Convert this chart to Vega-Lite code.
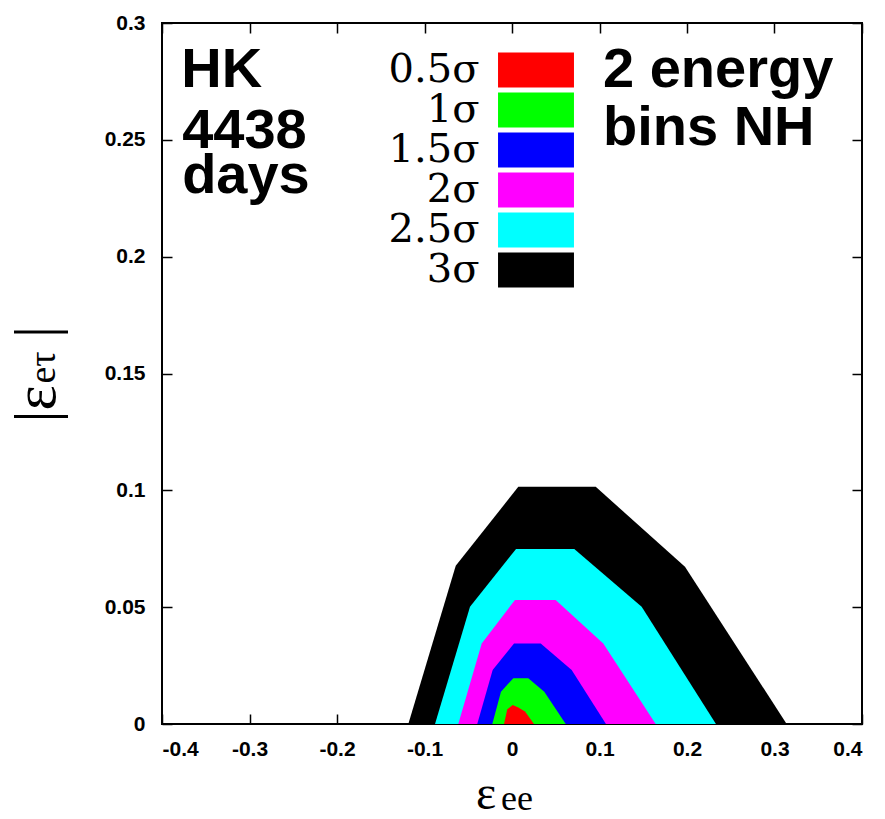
{
  "$schema": "https://vega.github.io/schema/vega-lite/v6.json",
  "width": 700,
  "height": 701,
  "autosize": {"type": "none"},
  "padding": {"left": 162, "top": 23, "right": 23, "bottom": 95},
  "background": "white",
  "config": {
    "view": {"stroke": "black", "strokeWidth": 2},
    "axis": {
      "grid": false, "domain": false, "ticks": true, "tickColor": "black", "tickWidth": 1.5, "tickSize": -10,
      "labelFont": "Liberation Sans", "labelFontWeight": "bold", "labelFontSize": 21, "labelColor": "black"
    },
    "text": {"color": "black"}
  },
  "data": {"values": [
    {"level": "3σ", "x": -0.1185, "y": 0},
    {"level": "3σ", "x": -0.0643, "y": 0.0677},
    {"level": "3σ", "x": 0.0072, "y": 0.1015},
    {"level": "3σ", "x": 0.0957, "y": 0.1015},
    {"level": "3σ", "x": 0.1977, "y": 0.0673},
    {"level": "3σ", "x": 0.3139, "y": 0},
    {"level": "2.5σ", "x": -0.088, "y": 0},
    {"level": "2.5σ", "x": -0.048, "y": 0.0502},
    {"level": "2.5σ", "x": 0.0046, "y": 0.0749},
    {"level": "2.5σ", "x": 0.0712, "y": 0.0749},
    {"level": "2.5σ", "x": 0.1482, "y": 0.0502},
    {"level": "2.5σ", "x": 0.2331, "y": 0},
    {"level": "2σ", "x": -0.0614, "y": 0},
    {"level": "2σ", "x": -0.0346, "y": 0.0345},
    {"level": "2σ", "x": 0.0034, "y": 0.0531},
    {"level": "2σ", "x": 0.0499, "y": 0.0531},
    {"level": "2σ", "x": 0.1043, "y": 0.0345},
    {"level": "2σ", "x": 0.1642, "y": 0},
    {"level": "1.5σ", "x": -0.0397, "y": 0},
    {"level": "1.5σ", "x": -0.0221, "y": 0.0231},
    {"level": "1.5σ", "x": 0.0023, "y": 0.0344},
    {"level": "1.5σ", "x": 0.0328, "y": 0.0344},
    {"level": "1.5σ", "x": 0.0682, "y": 0.0231},
    {"level": "1.5σ", "x": 0.1074, "y": 0},
    {"level": "1σ", "x": -0.0225, "y": 0},
    {"level": "1σ", "x": -0.0126, "y": 0.0138},
    {"level": "1σ", "x": 0.0015, "y": 0.0196},
    {"level": "1σ", "x": 0.0186, "y": 0.0196},
    {"level": "1σ", "x": 0.0369, "y": 0.0138},
    {"level": "1σ", "x": 0.0614, "y": 0},
    {"level": "0.5σ", "x": -0.0091, "y": 0},
    {"level": "0.5σ", "x": -0.0054, "y": 0.0063},
    {"level": "0.5σ", "x": 0.0008, "y": 0.0081},
    {"level": "0.5σ", "x": 0.0072, "y": 0.0071},
    {"level": "0.5σ", "x": 0.0149, "y": 0.0053},
    {"level": "0.5σ", "x": 0.0251, "y": 0}
  ]},
  "resolve": {"axis": {"x": "independent", "y": "independent"}},
  "layer": [
    {
      "transform": [{"filter": "datum.level === '3σ'"}],
      "mark": {"type": "area", "opacity": 1, "interpolate": "linear"},
      "encoding": {
        "x": {"field": "x", "type": "quantitative", "scale": {"domain": [-0.4, 0.4], "nice": false, "zero": false},
          "axis": {"orient": "bottom", "values": [-0.4, -0.3, -0.2, -0.1, 0, 0.1, 0.2, 0.3, 0.4], "labelExpr": "replace(format(datum.value, '~g'), '−', '-')", "labelPadding": 24, "title": null}},
        "y": {"field": "y", "type": "quantitative", "scale": {"domain": [0, 0.3], "nice": false, "zero": false},
          "axis": {"orient": "left", "values": [0, 0.05, 0.1, 0.15, 0.2, 0.25, 0.3], "labelExpr": "format(datum.value, '~g')", "labelPadding": 27, "title": null}},
        "y2": {"datum": 0},
        "color": {"field": "level", "type": "nominal",
          "scale": {"domain": ["0.5σ", "1σ", "1.5σ", "2σ", "2.5σ", "3σ"], "range": ["#ff0000", "#00ff00", "#0000ff", "#ff00ff", "#00ffff", "#000000"]},
          "legend": {"orient": "none", "legendX": 354, "legendY": 27, "title": null, "padding": 0,
            "symbolType": "M-2.17,-1L2.17,-1L2.17,1L-2.17,1Z", "symbolSize": 1225, "symbolStrokeWidth": 0, "symbolOpacity": 1,
            "labelFont": "DejaVu Serif", "labelFontSize": 40, "labelColor": "black", "labelAlign": "right", "labelOffset": -76.5, "rowPadding": 0, "labelLimit": 0}}
      }
    },
    {
      "transform": [{"filter": "datum.level === '2.5σ'"}],
      "mark": {"type": "area", "opacity": 1, "interpolate": "linear"},
      "encoding": {
        "x": {"field": "x", "type": "quantitative", "scale": {"domain": [-0.4, 0.4], "nice": false, "zero": false}, "axis": null},
        "y": {"field": "y", "type": "quantitative", "scale": {"domain": [0, 0.3], "nice": false, "zero": false}, "axis": null},
        "y2": {"datum": 0},
        "color": {"field": "level", "type": "nominal"}
      }
    },
    {
      "transform": [{"filter": "datum.level === '2σ'"}],
      "mark": {"type": "area", "opacity": 1, "interpolate": "linear"},
      "encoding": {
        "x": {"field": "x", "type": "quantitative", "scale": {"domain": [-0.4, 0.4], "nice": false, "zero": false}, "axis": null},
        "y": {"field": "y", "type": "quantitative", "scale": {"domain": [0, 0.3], "nice": false, "zero": false}, "axis": null},
        "y2": {"datum": 0},
        "color": {"field": "level", "type": "nominal"}
      }
    },
    {
      "transform": [{"filter": "datum.level === '1.5σ'"}],
      "mark": {"type": "area", "opacity": 1, "interpolate": "linear"},
      "encoding": {
        "x": {"field": "x", "type": "quantitative", "scale": {"domain": [-0.4, 0.4], "nice": false, "zero": false}, "axis": null},
        "y": {"field": "y", "type": "quantitative", "scale": {"domain": [0, 0.3], "nice": false, "zero": false}, "axis": null},
        "y2": {"datum": 0},
        "color": {"field": "level", "type": "nominal"}
      }
    },
    {
      "transform": [{"filter": "datum.level === '1σ'"}],
      "mark": {"type": "area", "opacity": 1, "interpolate": "linear"},
      "encoding": {
        "x": {"field": "x", "type": "quantitative", "scale": {"domain": [-0.4, 0.4], "nice": false, "zero": false}, "axis": null},
        "y": {"field": "y", "type": "quantitative", "scale": {"domain": [0, 0.3], "nice": false, "zero": false}, "axis": null},
        "y2": {"datum": 0},
        "color": {"field": "level", "type": "nominal"}
      }
    },
    {
      "transform": [{"filter": "datum.level === '0.5σ'"}],
      "mark": {"type": "area", "opacity": 1, "interpolate": "linear"},
      "encoding": {
        "x": {"field": "x", "type": "quantitative", "scale": {"domain": [-0.4, 0.4], "nice": false, "zero": false}, "axis": null},
        "y": {"field": "y", "type": "quantitative", "scale": {"domain": [0, 0.3], "nice": false, "zero": false}, "axis": null},
        "y2": {"datum": 0},
        "color": {"field": "level", "type": "nominal"}
      }
    },
    {
      "data": {"values": [{"note": "HK"}]},
      "mark": {"type": "text", "font": "Liberation Sans", "fontWeight": "bold", "fontSize": 56, "align": "left", "baseline": "alphabetic", "color": "black"},
      "encoding": {
        "x": {"datum": -0.378, "type": "quantitative", "scale": {"domain": [-0.4, 0.4], "nice": false, "zero": false}, "axis": null},
        "y": {"datum": 0.2726, "type": "quantitative", "scale": {"domain": [0, 0.3], "nice": false, "zero": false}, "axis": null},
        "text": {"field": "note"}
      }
    },
    {
      "data": {"values": [{"note": "4438"}]},
      "mark": {"type": "text", "font": "Liberation Sans", "fontWeight": "bold", "fontSize": 56, "align": "left", "baseline": "alphabetic", "color": "black"},
      "encoding": {
        "x": {"datum": -0.377, "type": "quantitative", "scale": {"domain": [-0.4, 0.4], "nice": false, "zero": false}, "axis": null},
        "y": {"datum": 0.2465, "type": "quantitative", "scale": {"domain": [0, 0.3], "nice": false, "zero": false}, "axis": null},
        "text": {"field": "note"}
      }
    },
    {
      "data": {"values": [{"note": "days"}]},
      "mark": {"type": "text", "font": "Liberation Sans", "fontWeight": "bold", "fontSize": 56, "align": "left", "baseline": "alphabetic", "color": "black"},
      "encoding": {
        "x": {"datum": -0.377, "type": "quantitative", "scale": {"domain": [-0.4, 0.4], "nice": false, "zero": false}, "axis": null},
        "y": {"datum": 0.2272, "type": "quantitative", "scale": {"domain": [0, 0.3], "nice": false, "zero": false}, "axis": null},
        "text": {"field": "note"}
      }
    },
    {
      "data": {"values": [{"note": "2 energy"}]},
      "mark": {"type": "text", "font": "Liberation Sans", "fontWeight": "bold", "fontSize": 56, "align": "left", "baseline": "alphabetic", "color": "black"},
      "encoding": {
        "x": {"datum": 0.104, "type": "quantitative", "scale": {"domain": [-0.4, 0.4], "nice": false, "zero": false}, "axis": null},
        "y": {"datum": 0.2726, "type": "quantitative", "scale": {"domain": [0, 0.3], "nice": false, "zero": false}, "axis": null},
        "text": {"field": "note"}
      }
    },
    {
      "data": {"values": [{"note": "bins NH"}]},
      "mark": {"type": "text", "font": "Liberation Sans", "fontWeight": "bold", "fontSize": 56, "align": "left", "baseline": "alphabetic", "color": "black"},
      "encoding": {
        "x": {"datum": 0.104, "type": "quantitative", "scale": {"domain": [-0.4, 0.4], "nice": false, "zero": false},
          "axis": {"orient": "top", "values": [-0.4, -0.3, -0.2, -0.1, 0, 0.1, 0.2, 0.3, 0.4], "labels": false, "title": null}},
        "y": {"datum": 0.2478, "type": "quantitative", "scale": {"domain": [0, 0.3], "nice": false, "zero": false},
          "axis": {"orient": "right", "values": [0, 0.05, 0.1, 0.15, 0.2, 0.25, 0.3], "labels": false, "title": null}},
        "text": {"field": "note"}
      }
    },
    {
      "data": {"values": [{"note": "ε"}]},
      "mark": {"type": "text", "font": "Liberation Serif", "fontSize": 48, "align": "left", "baseline": "alphabetic", "color": "black"},
      "encoding": {
        "x": {"datum": -0.0411, "type": "quantitative", "scale": {"domain": [-0.4, 0.4], "nice": false, "zero": false}, "axis": null},
        "y": {"datum": -0.0365, "type": "quantitative", "scale": {"domain": [0, 0.3], "nice": false, "zero": false}, "axis": null},
        "text": {"field": "note"}
      }
    },
    {
      "data": {"values": [{"note": "ee"}]},
      "mark": {"type": "text", "font": "Liberation Serif", "fontSize": 36, "align": "left", "baseline": "alphabetic", "color": "black"},
      "encoding": {
        "x": {"datum": -0.0125, "type": "quantitative", "scale": {"domain": [-0.4, 0.4], "nice": false, "zero": false}, "axis": null},
        "y": {"datum": -0.0369, "type": "quantitative", "scale": {"domain": [0, 0.3], "nice": false, "zero": false}, "axis": null},
        "text": {"field": "note"}
      }
    },
    {
      "data": {"values": [{"note": "|ε"}]},
      "mark": {"type": "text", "font": "Liberation Serif", "fontSize": 60, "align": "left", "baseline": "alphabetic", "angle": 270, "color": "black"},
      "encoding": {
        "x": {"datum": -0.5223, "type": "quantitative", "scale": {"domain": [-0.4, 0.4], "nice": false, "zero": false}, "axis": null},
        "y": {"datum": 0.129, "type": "quantitative", "scale": {"domain": [0, 0.3], "nice": false, "zero": false}, "axis": null},
        "text": {"field": "note"}
      }
    },
    {
      "data": {"values": [{"note": "eτ"}]},
      "mark": {"type": "text", "font": "Liberation Serif", "fontSize": 38, "align": "left", "baseline": "alphabetic", "angle": 270, "color": "black"},
      "encoding": {
        "x": {"datum": -0.5223, "type": "quantitative", "scale": {"domain": [-0.4, 0.4], "nice": false, "zero": false}, "axis": null},
        "y": {"datum": 0.1457, "type": "quantitative", "scale": {"domain": [0, 0.3], "nice": false, "zero": false}, "axis": null},
        "text": {"field": "note"}
      }
    },
    {
      "data": {"values": [{"note": "|"}]},
      "mark": {"type": "text", "font": "Liberation Serif", "fontSize": 60, "align": "left", "baseline": "alphabetic", "angle": 270, "color": "black"},
      "encoding": {
        "x": {"datum": -0.5223, "type": "quantitative", "scale": {"domain": [-0.4, 0.4], "nice": false, "zero": false}, "axis": null},
        "y": {"datum": 0.1652, "type": "quantitative", "scale": {"domain": [0, 0.3], "nice": false, "zero": false}, "axis": null},
        "text": {"field": "note"}
      }
    }
  ]
}
